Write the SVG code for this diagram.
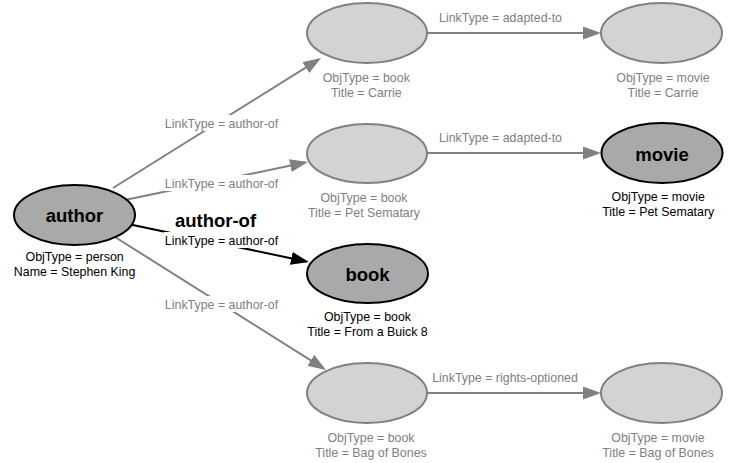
<svg xmlns="http://www.w3.org/2000/svg" width="730" height="463" viewBox="0 0 730 463">
<defs>
<style>
.gn{fill:#d3d3d3;stroke:#808080;stroke-width:2}
.dn{fill:#a9a9a9;stroke:#000;stroke-width:2}
.ge{fill:none;stroke:#808080;stroke-width:2;marker-end:url(#ag)}
.de{fill:none;stroke:#000;stroke-width:2;marker-end:url(#ad)}
text{font-family:"Liberation Sans",Arial,Helvetica,sans-serif;text-anchor:middle}
.t{font-size:12.4px;fill:#000}
.tg{font-size:12.4px;fill:#808080}
.b{font-size:18.5px;font-weight:bold;fill:#000}
.bg{fill:#fff}
</style>
<marker id="ag" viewBox="0 0 18 13" refX="15" refY="6.5" markerWidth="18" markerHeight="13" markerUnits="userSpaceOnUse" orient="auto">
<path d="M0,0 L18,6.5 L0,13 z" fill="#808080"/>
</marker>
<marker id="ad" viewBox="0 0 18 13" refX="15" refY="6.5" markerWidth="18" markerHeight="13" markerUnits="userSpaceOnUse" orient="auto">
<path d="M0,0 L18,6.5 L0,13 z" fill="#000"/>
</marker>
</defs>
<rect width="730" height="463" fill="#fff"/>
<g id="connectors">
<path class="ge" d="M113,188 L318.5,59.6"/>
<path class="ge" d="M120,201 L305,162.6"/>
<path class="de" d="M128,224 L306,261.4"/>
<path class="ge" d="M115,237 L323.5,368.4"/>
<path class="ge" d="M427,33 L598,33"/>
<path class="ge" d="M427,153 L598,153"/>
<path class="ge" d="M427,393 L598,393"/>
<rect class="bg" x="164" y="115" width="115" height="16"/>
<rect class="bg" x="164" y="175" width="115" height="16"/>
<rect class="bg" x="164" y="232" width="115" height="16"/>
<rect class="bg" x="164" y="296" width="115" height="16"/>
<text class="tg" x="221.5" y="127.5">LinkType = author-of</text>
<text class="tg" x="221.5" y="187.5">LinkType = author-of</text>
<text class="b" x="215.5" y="227">author-of</text>
<text class="t" x="221.5" y="244.5">LinkType = author-of</text>
<text class="tg" x="221.5" y="308.5">LinkType = author-of</text>
<text class="tg" x="500.5" y="21.5">LinkType = adapted-to</text>
<text class="tg" x="500.5" y="141.5">LinkType = adapted-to</text>
<text class="tg" x="505" y="381.5">LinkType = rights-optioned</text>
</g>
<g id="author">
<ellipse class="dn" cx="74.5" cy="215" rx="60.5" ry="30"/>
<text class="b" x="74.5" y="222">author</text>
<text class="t" x="74.6" y="261">ObjType = person</text>
<text class="t" x="74.6" y="275.5">Name = Stephen King</text>
</g>
<g id="book-carrie">
<ellipse class="gn" cx="367" cy="33" rx="60" ry="30"/>
<text class="tg" x="366.3" y="81.5">ObjType = book</text>
<text class="tg" x="366.3" y="96.5">Title = Carrie</text>
</g>
<g id="movie-carrie">
<ellipse class="gn" cx="661.5" cy="33" rx="60.5" ry="30"/>
<text class="tg" x="663" y="81.5">ObjType = movie</text>
<text class="tg" x="663" y="96.5">Title = Carrie</text>
</g>
<g id="book-pet-sematary">
<ellipse class="gn" cx="367" cy="153.5" rx="60" ry="29.5"/>
<text class="tg" x="364" y="201.5">ObjType = book</text>
<text class="tg" x="364" y="216.5">Title = Pet Sematary</text>
</g>
<g id="movie-pet-sematary">
<ellipse class="dn" cx="662" cy="153" rx="60.5" ry="30"/>
<text class="b" x="662" y="161">movie</text>
<text class="t" x="658.2" y="200.5">ObjType = movie</text>
<text class="t" x="658.2" y="215.5">Title = Pet Sematary</text>
</g>
<g id="book-buick-8">
<ellipse class="dn" cx="367.5" cy="273.5" rx="60.5" ry="29.5"/>
<text class="b" x="367.5" y="281">book</text>
<text class="t" x="367.5" y="320.5">ObjType = book</text>
<text class="t" x="367.5" y="335.5">Title = From a Buick 8</text>
</g>
<g id="book-bag-of-bones">
<ellipse class="gn" cx="367" cy="393" rx="60" ry="30"/>
<text class="tg" x="371" y="441.5">ObjType = book</text>
<text class="tg" x="371" y="456.5">Title = Bag of Bones</text>
</g>
<g id="movie-bag-of-bones">
<ellipse class="gn" cx="661.5" cy="393" rx="60.5" ry="30"/>
<text class="tg" x="658" y="441.5">ObjType = movie</text>
<text class="tg" x="658" y="456.5">Title = Bag of Bones</text>
</g>
</svg>
